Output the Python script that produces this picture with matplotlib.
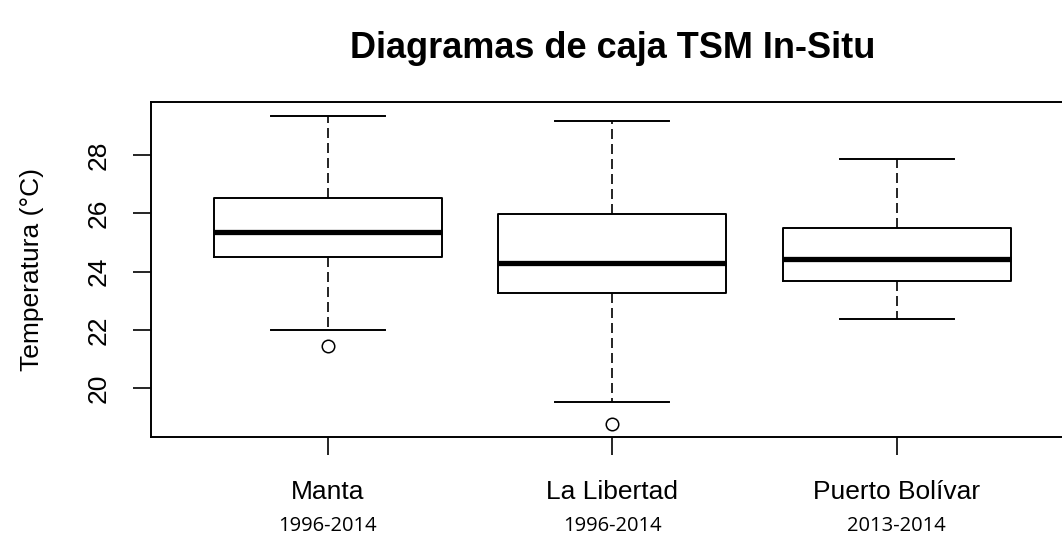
import matplotlib
matplotlib.use("Agg")
import matplotlib.pyplot as plt

# values (deg C)
stations = ["Manta", "La Libertad", "Puerto Bolívar"]
periods = ["1996-2014", "1996-2014", "2013-2014"]
whislo = [21.99, 19.53, 22.37]
q1 = [24.51, 23.28, 23.66]
med = [25.35, 24.31, 24.44]
q3 = [26.51, 25.98, 25.48]
whishi = [29.35, 29.16, 27.86]
fliers = [[21.45], [18.76], []]

plt.rcParams["font.family"] = ["Liberation Sans", "DejaVu Sans"]

fig = plt.figure(figsize=(10.62, 5.4), dpi=100)
ax = fig.add_axes([0.1425, 0.1907, 0.868, 0.6204])

stats = []
for i in range(len(stations)):
    stats.append(dict(whislo=whislo[i], q1=q1[i], med=med[i], q3=q3[i],
                      whishi=whishi[i], fliers=fliers[i], label=stations[i]))

ax.bxp(stats, positions=[1, 2, 3], widths=0.8, showfliers=True,
       boxprops=dict(color="black", linewidth=1.4),
       medianprops=dict(color="black", linewidth=3.8, solid_capstyle="butt"),
       whiskerprops=dict(color="black", linewidth=1.2, linestyle=(0, (6, 3))),
       capprops=dict(color="black", linewidth=1.4),
       capwidths=0.4,
       flierprops=dict(marker="o", markerfacecolor="none", markeredgecolor="black",
                       markersize=9, markeredgewidth=1.1))

ax.set_xlim(0.38, 3.62)
ax.set_ylim(18.32, 29.82)
ax.set_yticks([20, 22, 24, 26, 28])
ax.set_yticklabels(["20", "22", "24", "26", "28"], rotation=90, va="center")
ax.set_xticks([1, 2, 3])
ax.set_xticklabels(stations)
ax.tick_params(axis="both", direction="out", length=13, width=1.2, labelsize=19)
ax.tick_params(axis="y", pad=16)
ax.tick_params(axis="x", pad=18)
for s in ax.spines.values():
    s.set_linewidth(1.4)

ax.set_ylabel("Temperatura (°C)", fontsize=19, labelpad=31)
ax.set_title("Diagramas de caja TSM In-Situ", fontsize=26, fontweight="bold", pad=32)

trans = ax.get_xaxis_transform()
for i, p in enumerate(periods):
    ax.text(i + 1, -0.265, p, transform=trans, ha="center", va="center",
            fontsize=14.5, family=["Open Sans", "DejaVu Sans"])

fig.savefig("out.png", dpi=100)
